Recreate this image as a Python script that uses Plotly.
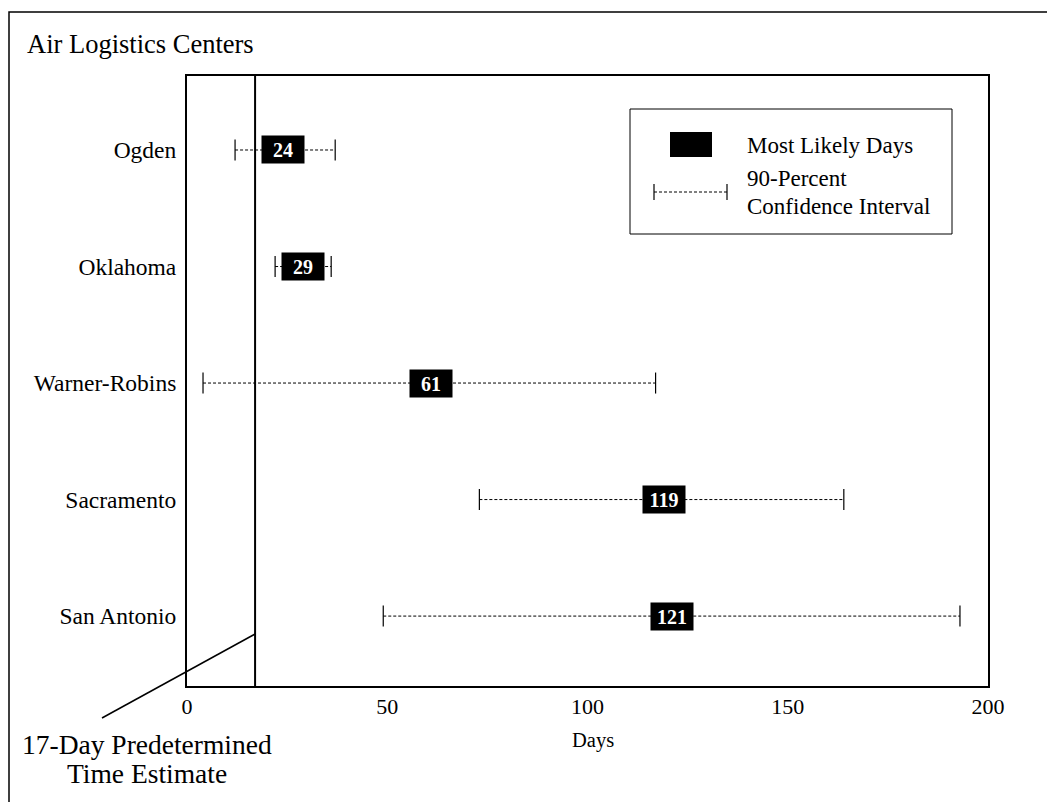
import plotly.graph_objects as go

# ---- data ----
centers = ["Ogden", "Oklahoma", "Warner-Robins", "Sacramento", "San Antonio"]
most_likely = [24, 29, 61, 119, 121]
ci_low = [12, 22, 4, 73, 49]
ci_high = [37, 36, 117, 164, 193]
x_ticks = [0, 50, 100, 150, 200]
predetermined = 17

FONT = "Liberation Serif, Times New Roman, serif"
OFF = 8  # page body margin
W, H = 1055, 802
# plot area in reference pixels: x 187..988, y 76..686
L, T = 187 - OFF, 76 - OFF
R = W - (988 - OFF)
B = H - (686 - OFF)
PW, PH = W - L - R, H - T - B
XMIN, XMAX = 0, 200


def px(xpix):
    return (xpix - OFF - L) / PW


def py(ypix):
    return (H - B - (ypix - OFF)) / PH


ypos = list(range(len(centers)))

fig = go.Figure()

# dashed interval lines
lx, ly = [], []
for i in ypos:
    lx += [ci_low[i], ci_high[i], None]
    ly += [i, i, None]
fig.add_trace(go.Scatter(x=lx, y=ly, mode="lines",
                         line=dict(color="black", width=1, dash="3px,2px"),
                         hoverinfo="skip", showlegend=False))
# end caps
fig.add_trace(go.Scatter(x=ci_low + ci_high, y=ypos + ypos, mode="markers",
                         marker=dict(symbol="line-ns", size=15,
                                     line=dict(color="black", width=1.2)),
                         hoverinfo="skip", showlegend=False))

annotations = []
for i in ypos:
    annotations.append(dict(x=most_likely[i], y=i, xref="x", yref="y",
                            text="<b>%d</b>" % most_likely[i], showarrow=False,
                            width=42, height=27, bgcolor="black", borderpad=0,
                            font=dict(family=FONT, size=20, color="white")))

shapes = []
# 17-day vertical line
shapes.append(dict(type="line", xref="x", yref="paper", x0=predetermined, x1=predetermined,
                   y0=0, y1=1, line=dict(color="black", width=2)))
# diagonal pointer
shapes.append(dict(type="line", xref="paper", yref="paper",
                   x0=(predetermined - XMIN) / (XMAX - XMIN), y0=py(634),
                   x1=px(102), y1=py(718), line=dict(color="black", width=1.5)))
# outer frame
shapes.append(dict(type="rect", xref="paper", yref="paper",
                   x0=px(9), x1=px(1075), y0=py(830), y1=py(12),
                   line=dict(color="black", width=1.5), layer="below"))
# legend box
shapes.append(dict(type="rect", xref="paper", yref="paper",
                   x0=px(630), x1=px(952), y0=py(234), y1=py(109),
                   line=dict(color="black", width=1), fillcolor="white"))
# legend swatch
shapes.append(dict(type="rect", xref="paper", yref="paper",
                   x0=px(670), x1=px(712), y0=py(157), y1=py(132),
                   line=dict(color="black", width=0), fillcolor="black"))
# legend interval sample
shapes.append(dict(type="line", xref="paper", yref="paper",
                   x0=px(654), x1=px(727), y0=py(192), y1=py(192),
                   line=dict(color="black", width=1, dash="3px,2px")))
for xx in (654, 727):
    shapes.append(dict(type="line", xref="paper", yref="paper",
                       x0=px(xx), x1=px(xx), y0=py(184), y1=py(200),
                       line=dict(color="black", width=1.2)))


def txt(x, y, s, size, xanchor="left"):
    return dict(xref="paper", yref="paper", x=px(x), y=py(y), xanchor=xanchor,
                yanchor="middle", text=s, showarrow=False,
                font=dict(family=FONT, size=size, color="black"))


annotations += [
    txt(745, 145, "Most Likely Days", 23),
    txt(745, 178, "90-Percent", 23),
    txt(745, 206, "Confidence Interval", 23),
    txt(25, 44, "Air Logistics Centers", 26.5),
    txt(147, 744, "17-Day Predetermined", 27.5, "center"),
    txt(147, 773, "Time Estimate", 27.5, "center"),
    txt(593, 740, "Days", 20.5, "center"),
]

fig.update_layout(
    width=W, height=H,
    margin=dict(l=L, r=R, t=T, b=B, pad=0),
    paper_bgcolor="white", plot_bgcolor="white",
    font=dict(family=FONT, size=22, color="black"),
    showlegend=False,
    shapes=shapes,
    annotations=annotations,
    xaxis=dict(range=[XMIN, XMAX], tickvals=x_ticks, ticktext=[str(v) for v in x_ticks],
               showgrid=False, zeroline=False, showline=True, mirror=True,
               linecolor="black", linewidth=2, ticks="",
               tickfont=dict(family=FONT, size=22)),
    yaxis=dict(range=[4.6, -0.635], tickvals=ypos, ticktext=centers,
               showgrid=False, zeroline=False, showline=True, mirror=True,
               linecolor="black", linewidth=2, ticks="", ticklabelstandoff=4,
               tickfont=dict(family=FONT, size=23.5)),
)

fig.write_html("out.html")
